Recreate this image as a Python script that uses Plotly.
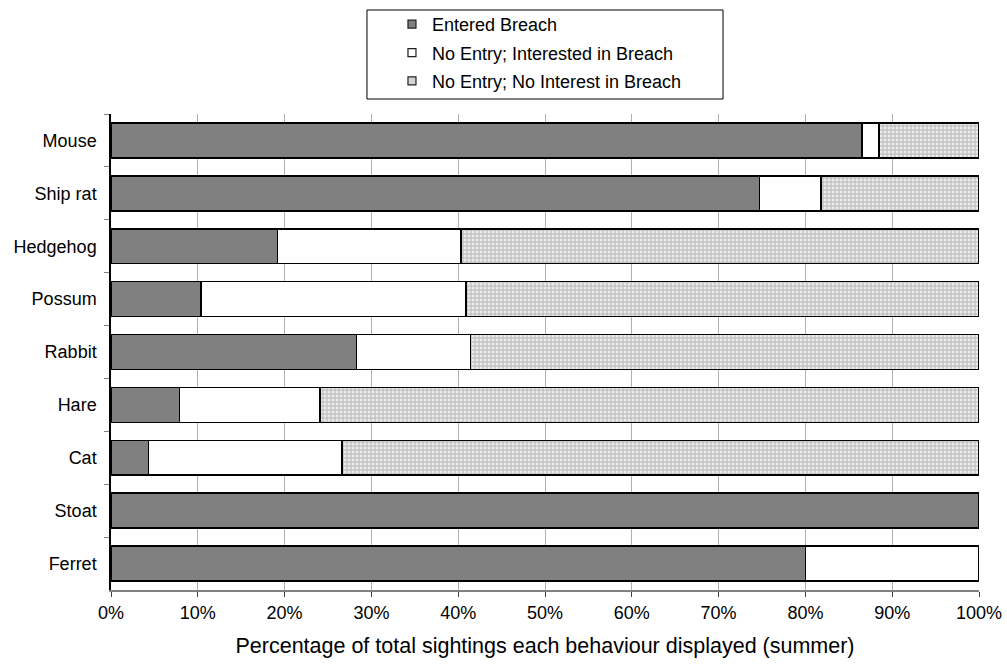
import plotly.graph_objects as go

# Species, listed top to bottom
species = ["Mouse", "Ship rat", "Hedgehog", "Possum", "Rabbit", "Hare", "Cat", "Stoat", "Ferret"]

# Share of sightings (%) for each behaviour
entered = [86.5, 74.7, 19.2, 10.4, 28.3, 7.9, 4.3, 100.0, 80.0]
interested = [2.0, 7.1, 21.1, 30.5, 13.1, 16.2, 22.3, 0.0, 20.0]
no_interest = [11.5, 18.2, 59.7, 59.1, 58.6, 75.9, 73.4, 0.0, 0.0]

series_names = [
    "Entered Breach",
    "No Entry; Interested in Breach",
    "No Entry; No Interest in Breach",
]
series_colors = ["#808080", "white", "#c4c4c4"]
legend_colors = ["#808080", "white", "#d4d4d4"]

x_ticks = list(range(0, 101, 10))
x_tick_text = [f"{v}%" for v in x_ticks]

FONT = "Liberation Sans, Arial, sans-serif"
FS = 18
outline = dict(color="black", width=1.6)
dots = dict(shape=".", bgcolor="#c4c4c4", fgcolor="#ececec",
            size=4, solidity=0.45, fillmode="replace")

fig = go.Figure()
for name, vals, col, patterned in zip(series_names, [entered, interested, no_interest],
                                      series_colors, [False, False, True]):
    marker = dict(color=col, line=outline)
    if patterned:
        marker["pattern"] = dots
    fig.add_trace(go.Bar(y=species, x=vals, name=name, orientation="h",
                         marker=marker, showlegend=False))

# Small square keys for the legend
for i, (name, col) in enumerate(zip(series_names, legend_colors)):
    fig.add_trace(go.Scatter(
        x=[None], y=[None], mode="markers", name=name, legendgroup=f"g{i}",
        marker=dict(symbol="square", size=8, color=col,
                    line=dict(color="#202020", width=1.2)),
    ))

fig.update_layout(
    width=1007, height=670,
    barmode="stack", bargap=0.34,
    paper_bgcolor="white", plot_bgcolor="white",
    margin=dict(l=111, r=28, t=114, b=80, autoexpand=False),
    font=dict(family=FONT, size=FS, color="black"),
    showlegend=True,
    legend=dict(
        x=0.3237, y=1.227, xanchor="left", yanchor="top",
        bgcolor="rgba(0,0,0,0)", borderwidth=0,
        font=dict(family=FONT, size=FS, color="black"),
        traceorder="grouped", tracegroupgap=2,
    ),
    shapes=[dict(
        type="rect", xref="paper", yref="paper",
        x0=0.2949, x1=0.7051, y0=1.0315, y1=1.2185,
        line=dict(color="black", width=1), fillcolor="rgba(0,0,0,0)",
        layer="above",
    )],
)

fig.update_xaxes(
    range=[0, 100], tickvals=x_ticks, ticktext=x_tick_text,
    showgrid=True, gridcolor="#b0b0b0", gridwidth=1,
    showline=True, linecolor="#808080", linewidth=2,
    ticks="outside", ticklen=5, tickcolor="#404040",
    tickfont=dict(family=FONT, size=FS, color="black"),
    title=dict(text="Percentage of total sightings each behaviour displayed (summer)",
               font=dict(family=FONT, size=21.5, color="black"), standoff=16),
    zeroline=False, fixedrange=True,
)
fig.update_yaxes(
    categoryorder="array", categoryarray=species, autorange="reversed",
    showline=True, linecolor="black", linewidth=1.5,
    ticks="outside", ticklen=5, tickcolor="#808080", tickson="boundaries",
    ticklabelstandoff=9,
    tickfont=dict(family=FONT, size=FS, color="black"),
    showgrid=False, fixedrange=True,
)

fig.write_html("out.html")
